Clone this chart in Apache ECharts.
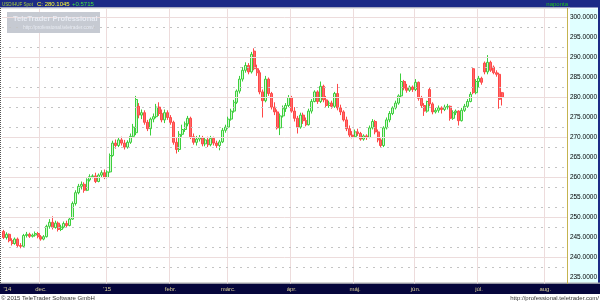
<!DOCTYPE html>
<html><head><meta charset="utf-8">
<script src="https://cdn.jsdelivr.net/npm/echarts@6/dist/echarts.min.js"></script>
<style>html,body{margin:0;padding:0;background:#fff}#c{width:600px;height:302px}</style>
</head><body><div id="c"></div>
<script>
// ---- data (USD/HUF Spot, daily, weekdays) ----
const firstDay = [2014, 10, 12];   // 2014-11-12 (month is 0-based)
const lastDay = [2015, 7, 12];     // 2015-08-12, right end of the axis
const open = [
246.5,245.0,245.8,244.2,243.5,244.6,243.0,242.8,245.5,245.8,
245.3,245.6,246.0,245.2,244.6,245.2,247.8,248.8,247.5,248.6,
247.0,247.6,248.5,248.0,249.6,253.5,256.2,257.8,258.3,256.8,
259.4,260.2,260.4,259.0,260.6,261.2,
260.0,261.4,265.5,268.6,268.0,269.4,268.6,267.6,268.8,270.3,
271.2,277.8,275.6,276.2,273.8,272.2,274.6,275.2,277.6,276.0,
274.4,276.2,
275.0,273.8,268.8,267.0,270.8,272.0,273.4,274.8,270.2,268.8,
269.6,270.0,268.4,269.4,268.2,269.8,268.6,268.0,268.9,271.8,
272.6,274.6,276.6,278.8,281.6,284.6,286.8,288.0,286.4,291.6,
287.2,286.2,281.4,279.2,284.6,281.0,277.6,276.4,272.4,275.4,
277.2,278.0,
280.0,276.6,274.8,272.6,275.6,274.2,273.2,276.6,279.0,281.4,
279.0,282.8,279.4,278.0,278.6,277.8,281.0,277.4,276.4,274.4,
272.2,270.6,
270.2,271.4,271.0,269.6,270.4,270.0,272.4,274.0,271.4,269.4,
268.0,272.4,274.4,276.0,277.4,278.6,280.4,284.0,282.4,281.8,
282.6,
282.0,283.8,279.8,278.0,276.6,282.0,278.4,276.4,276.8,277.4,
277.0,277.6,277.8,274.8,276.2,276.6,274.2,276.8,277.8,279.0,
287.2,281.2,
284.0,284.8,288.6,286.4,288.8,287.6,286.2,285.8,281.2
];
const close = [
245.0,245.8,244.2,243.5,244.6,243.0,242.8,245.5,245.8,245.3,
245.6,246.0,245.2,244.6,245.2,247.8,248.8,247.5,248.6,247.0,
247.6,248.5,248.0,249.6,253.5,256.2,257.8,258.3,256.8,259.4,
260.2,260.4,259.0,260.6,261.2,260.0,
261.4,265.5,268.6,268.0,269.4,268.6,267.6,268.8,270.3,272.6,
279.5,275.6,276.2,273.8,272.2,274.6,275.2,277.6,276.0,274.4,
276.2,275.0,
273.8,268.8,267.0,270.8,272.0,273.4,274.8,270.2,268.8,269.6,
270.0,268.4,269.4,268.2,269.8,268.6,268.0,268.9,271.8,272.6,
274.6,276.6,278.8,281.6,284.6,286.8,288.0,286.4,290.8,287.2,
286.2,281.4,279.2,284.6,281.0,277.6,276.4,272.4,275.4,277.2,
278.0,280.0,
276.6,274.8,272.6,275.6,274.2,273.2,276.6,279.0,281.4,279.0,
282.8,279.4,278.0,278.6,277.8,281.0,277.4,276.4,274.4,272.2,
270.6,270.2,
271.4,271.0,269.6,270.4,270.0,272.4,274.0,271.4,269.4,268.0,
272.4,274.4,276.0,277.4,278.6,280.4,284.0,282.4,281.8,282.6,
282.0,
283.8,279.8,278.0,276.6,279.0,278.4,276.4,276.8,277.4,277.0,
277.6,277.8,274.8,276.2,276.6,274.2,276.8,277.8,279.0,280.8,
281.2,284.0,
284.8,283.8,286.4,288.8,286.8,286.2,285.8,279.533,280.1045
];
const low = [
244.6,244.5,243.8,243.0,243.2,242.6,242.3,242.5,245.0,244.9,
245.0,245.2,244.8,244.2,244.3,245.0,247.2,247.0,247.2,246.5,
246.6,247.3,247.6,247.8,249.4,253.0,255.8,257.0,256.2,256.6,
259.0,259.8,258.6,258.8,260.0,259.6,
259.8,261.2,265.2,267.2,267.6,268.0,267.0,267.2,268.4,270.0,
270.6,274.8,274.6,273.2,271.6,270.5,273.8,274.8,275.4,273.8,
273.6,274.4,
273.2,268.2,266.0,266.4,270.2,271.4,272.8,269.6,268.2,268.0,
269.0,267.8,267.8,267.6,267.8,268.0,267.4,266.8,268.6,271.2,
272.2,274.2,276.2,278.4,281.0,284.0,286.2,285.8,286.0,286.8,
285.4,280.8,275.0,278.8,280.4,277.0,275.6,272.0,270.6,275.0,
276.4,277.6,
276.2,274.0,271.0,272.2,273.4,272.8,273.0,276.0,278.8,278.4,
278.6,278.8,277.4,277.4,277.2,277.4,276.8,275.6,274.0,271.6,
270.0,269.8,
270.0,270.4,269.2,269.2,269.4,269.8,272.0,270.8,268.8,267.4,
267.6,272.0,273.8,275.6,277.0,278.2,280.0,281.8,281.2,281.4,
281.4,
281.6,279.2,277.4,275.4,276.2,277.8,275.8,276.0,276.2,276.0,
276.6,277.0,274.2,274.4,275.6,273.0,274.0,276.4,277.4,278.8,
280.8,280.8,
282.4,283.2,285.8,285.8,286.4,285.8,285.2,277.2,278.0
];
const high = [
246.9,246.3,246.0,244.8,245.0,245.0,243.6,245.9,246.4,246.2,
246.0,246.5,246.4,245.6,245.6,248.2,249.6,250.3,249.2,249.0,
248.2,249.0,249.2,250.0,254.0,256.8,258.4,259.0,258.8,259.8,
260.8,260.8,261.2,261.0,261.8,262.0,
261.8,266.0,269.2,269.5,270.0,270.2,269.4,269.3,271.0,273.4,
280.4,278.6,277.0,276.8,274.4,275.0,276.0,278.4,278.8,277.0,
277.0,276.8,
275.6,274.2,270.0,271.6,273.2,274.0,275.4,275.2,271.0,270.4,
270.6,270.4,270.0,270.2,270.4,270.2,269.2,269.4,272.4,273.2,
275.2,277.2,279.4,282.0,285.4,287.6,288.8,288.6,291.4,292.3,
288.2,286.8,282.0,285.4,285.0,281.4,278.8,277.0,276.0,278.0,
278.6,280.6,
280.4,277.6,275.4,276.2,276.2,275.0,277.2,279.6,281.8,281.8,
284.0,283.2,280.4,279.2,279.2,281.4,283.4,278.2,276.8,275.2,
273.0,271.6,
272.0,272.2,271.4,270.8,270.8,273.0,274.6,274.4,272.0,269.8,
272.8,275.0,276.6,277.8,279.2,280.8,286.0,284.4,283.4,283.0,
283.0,
284.6,284.0,280.4,278.6,279.2,282.4,278.8,277.4,278.0,277.8,
278.2,278.4,278.0,276.8,277.0,276.8,277.4,278.4,279.6,281.4,
287.6,284.6,
285.4,285.2,289.0,290.6,289.2,288.0,286.8,286.2,281.4
];
// tick labels
const firstLabel = "'14";
const monthLabels = ["'15","febr.","márc.","ápr.","máj.","jún.","júl.","aug.","szept.","okt.","nov.","dec."];
const yMin = 233.5, yMax = 302.25, yStep = 0.5, yLabelEvery = 5;
const gridMajor = [240, 250, 260, 270, 280, 290, 300];
const gridMinor = [237.5, 242.5, 247.5, 252.5, 257.5, 262.5, 267.5, 272.5, 277.5, 282.5, 287.5, 292.5, 297.5];
const titleText = 'USD/HUF Spot';
const periodText = 'naponta';

// ---- build ----
const dates = [];
for (let d = new Date(Date.UTC(firstDay[0], firstDay[1], firstDay[2])); d <= new Date(Date.UTC(lastDay[0], lastDay[1], lastDay[2])); d.setUTCDate(d.getUTCDate() + 1)) {
  const wd = d.getUTCDay();
  if (wd === 0 || wd === 6) continue;
  dates.push(d.toISOString().slice(0, 10));
}
const ohlc = open.map((o, i) => [o, close[i], low[i], high[i]]);
const isMonthStart = i => i > 0 && dates[i].slice(5, 7) !== dates[i - 1].slice(5, 7);
const lastClose = close[close.length - 1];
const change = lastClose - close[close.length - 2];
const FONT = 'Liberation Sans, Arial, sans-serif';

const chart = echarts.init(document.getElementById('c'), null, {renderer: 'canvas'});
chart.setOption({
  animation: false,
  backgroundColor: '#ffffff',
  grid: {left: 2, right: 30, top: 8.5, bottom: 18.5, containLabel: false},
  xAxis: {
    type: 'category', data: dates, boundaryGap: true,
    axisLine: {show: false}, axisTick: {show: false},
    axisLabel: {
      interval: (i) => i === 0 || isMonthStart(i),
      formatter: (v, i) => i === 0 ? firstLabel : monthLabels[parseInt(v.slice(5, 7), 10) - 1],
      color: '#d8cf98', fontSize: 6, fontFamily: FONT, margin: 3, alignMinLabel: 'left'
    },
    splitLine: {show: true, interval: (i) => isMonthStart(i), lineStyle: {color: '#eddcdc', width: 1}}
  },
  yAxis: {
    type: 'value', position: 'right', min: yMin, max: yMax, interval: yStep,
    axisLine: {show: true, lineStyle: {color: '#c0b040', type: 'dotted', width: 1}},
    axisTick: {show: false}, splitLine: {show: false},
    axisLabel: {
      color: '#000', fontSize: 6.5, fontFamily: FONT, margin: 3,
      formatter: v => Math.abs(v / yLabelEvery - Math.round(v / yLabelEvery)) < 1e-9 ? v.toFixed(4) : ''
    }
  },
  series: [
    {
      type: 'line', data: [], z: 1, silent: true,
      markLine: {
        silent: true, symbol: 'none', animation: false, label: {show: false},
        data: gridMajor.map(v => ({yAxis: v, lineStyle: {color: '#eddcdc', type: 'solid', width: 1}}))
          .concat(gridMinor.map(v => ({yAxis: v, lineStyle: {color: '#c4c4c4', type: [2, 5], width: 1}})))
      }
    },
    {
      type: 'candlestick', data: ohlc, barWidth: 2.5, z: 3,
      itemStyle: {color: '#d4f7d4', color0: '#ff6a6a', borderColor: '#3ccf3c', borderColor0: '#ff4848', borderWidth: 1},
      markLine: {
        silent: true, symbol: 'none', animation: false,
        data: [{yAxis: lastClose, lineStyle: {opacity: 0, width: 0},
          label: {show: true, position: 'end', distance: 2, formatter: () => lastClose.toFixed(4),
            backgroundColor: '#ffff00', color: '#000', fontSize: 6.5, fontFamily: FONT, padding: [1, 3, 0, 1]}}]
      }
    }
  ],
  graphic: [
    {type: 'rect', silent: true, z: -6, shape: {x: 570, y: 8.5, width: 30, height: 275}, style: {fill: '#e0ffff'}},
    {type: 'rect', silent: true, z: -5, shape: {x: 0, y: 0, width: 600, height: 7.5}, style: {fill: '#1c2a86'}},
    {type: 'rect', silent: true, z: -5, shape: {x: 598, y: 0, width: 2, height: 283}, style: {fill: '#1c2a86'}},
    {type: 'line', silent: true, z: -4, shape: {x1: 0, y1: 8, x2: 570, y2: 8}, style: {stroke: '#c8c8c8', lineWidth: 1}},
    {type: 'rect', silent: true, z: -5, shape: {x: 0, y: 283.5, width: 600, height: 10.5}, style: {fill: '#06063c'}},
    {type: 'line', silent: true, z: -4, shape: {x1: 0, y1: 283, x2: 600, y2: 283}, style: {stroke: '#a8a8a8', lineWidth: 1}},
    {type: 'line', silent: true, z: 4, shape: {x1: 0.5, y1: 8, x2: 0.5, y2: 283}, style: {stroke: '#555', lineWidth: 1, lineDash: [1, 1]}},
    {type: 'text', silent: true, z: -3, x: 2, y: 4, scaleX: 0.76, style: {text: titleText, fill: '#a8d038', fontSize: 6, fontFamily: FONT, verticalAlign: 'middle'}},
    {type: 'text', silent: true, z: -3, x: 37, y: 4, style: {text: 'C: ' + lastClose.toFixed(4), fill: '#ffff30', fontSize: 6, fontFamily: FONT, verticalAlign: 'middle'}},
    {type: 'text', silent: true, z: -3, x: 72, y: 4, style: {text: (change >= 0 ? '+' : '') + change.toFixed(4), fill: '#40e040', fontSize: 6, fontFamily: FONT, verticalAlign: 'middle'}},
    {type: 'text', silent: true, z: -3, x: 568, y: 4, style: {text: periodText, fill: '#20c020', fontSize: 6, fontFamily: FONT, align: 'right', verticalAlign: 'middle'}},
    {type: 'rect', silent: true, z: 5, shape: {x: 7, y: 12, width: 93, height: 21}, style: {fill: '#c6cad2'}},
    {type: 'text', silent: true, z: 6, x: 13, y: 19, style: {text: 'TeleTrader Professional', fill: '#e8ecf4', fontSize: 7.5, fontWeight: 'bold', fontFamily: FONT, verticalAlign: 'middle'}},
    {type: 'text', silent: true, z: 6, x: 23, y: 28, style: {text: 'http://professional.teletrader.com/', fill: '#e8ecf4', fontSize: 4.8, fontFamily: FONT, verticalAlign: 'middle'}},
    {type: 'text', silent: true, z: 6, x: 1, y: 298.5, style: {text: '\u00a9 2015 TeleTrader Software GmbH', fill: '#333', fontSize: 6, fontFamily: FONT, verticalAlign: 'middle'}},
    {type: 'text', silent: true, z: 6, x: 599, y: 298.5, style: {text: 'http://professional.teletrader.com/', fill: '#333', fontSize: 6, fontFamily: FONT, align: 'right', verticalAlign: 'middle'}}
  ]
});
</script></body></html>
